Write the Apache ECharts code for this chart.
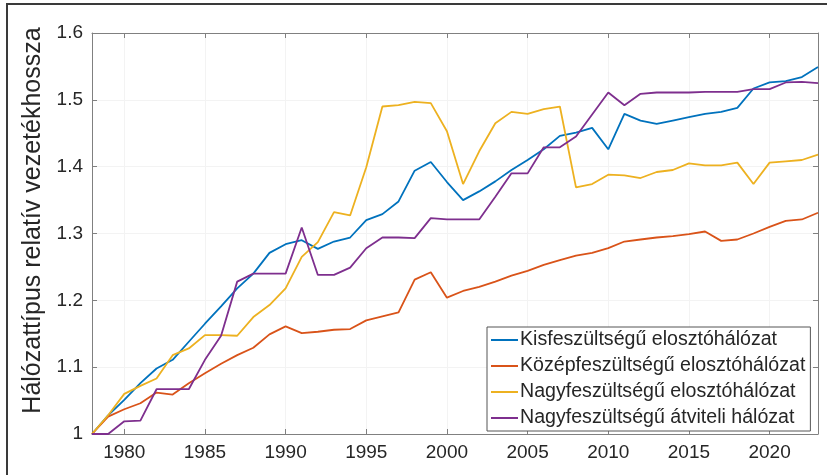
<!DOCTYPE html>
<html>
<head>
<meta charset="utf-8">
<script src="https://cdn.jsdelivr.net/npm/echarts@6/dist/echarts.min.js"></script>
<style>
    html, body { margin: 0; padding: 0; background: #fff; }
    #main { width: 827px; height: 475px; }
</style>
</head>
<body>
<div id="main"></div>
<script>
const years = ['1978', '1979', '1980', '1981', '1982', '1983', '1984', '1985', '1986', '1987',
    '1988', '1989', '1990', '1991', '1992', '1993', '1994', '1995', '1996', '1997',
    '1998', '1999', '2000', '2001', '2002', '2003', '2004', '2005', '2006', '2007',
    '2008', '2009', '2010', '2011', '2012', '2013', '2014', '2015', '2016', '2017',
    '2018', '2019', '2020', '2021', '2022', '2023'];

const seriesNames = [
    'Kisfeszültségű elosztóhálózat',
    'Középfeszültségű elosztóhálózat',
    'Nagyfeszültségű elosztóhálózat',
    'Nagyfeszültségű átviteli hálózat'
];

const kisfesz = [1.000, 1.028, 1.051, 1.076, 1.098, 1.111, 1.138, 1.165, 1.191, 1.218,
    1.240, 1.271, 1.284, 1.290, 1.277, 1.288, 1.294, 1.320, 1.329, 1.348,
    1.394, 1.407, 1.377, 1.350, 1.363, 1.378, 1.395, 1.410, 1.426, 1.446,
    1.451, 1.458, 1.426, 1.479, 1.469, 1.464, 1.469, 1.474, 1.479, 1.482,
    1.488, 1.517, 1.526, 1.528, 1.534, 1.549];

const kozepfesz = [1.000, 1.026, 1.037, 1.046, 1.062, 1.059, 1.076, 1.091, 1.105, 1.118,
    1.129, 1.149, 1.161, 1.151, 1.153, 1.156, 1.157, 1.170, 1.176, 1.182,
    1.231, 1.242, 1.204, 1.214, 1.220, 1.228, 1.237, 1.244, 1.253, 1.260,
    1.267, 1.271, 1.278, 1.288, 1.291, 1.294, 1.296, 1.299, 1.303, 1.289,
    1.291, 1.300, 1.310, 1.319, 1.321, 1.331];

const nagyElosztó = [1.000, 1.028, 1.060, 1.072, 1.083, 1.118, 1.128, 1.148, 1.148, 1.147,
    1.175, 1.193, 1.218, 1.265, 1.287, 1.332, 1.327, 1.399, 1.490, 1.492,
    1.497, 1.495, 1.453, 1.374, 1.423, 1.465, 1.482, 1.479, 1.486, 1.490,
    1.369, 1.374, 1.388, 1.387, 1.383, 1.392, 1.395, 1.405, 1.402, 1.402,
    1.406, 1.374, 1.406, 1.408, 1.410, 1.418];

const nagyAtviteli = [1.000, 1.000, 1.019, 1.020, 1.067, 1.067, 1.067, 1.111, 1.147, 1.228,
    1.240, 1.240, 1.240, 1.309, 1.238, 1.238, 1.249, 1.278, 1.294, 1.294,
    1.293, 1.323, 1.321, 1.321, 1.321, 1.355, 1.390, 1.390, 1.429, 1.429,
    1.445, 1.478, 1.511, 1.492, 1.509, 1.511, 1.511, 1.511, 1.512, 1.512,
    1.512, 1.516, 1.516, 1.526, 1.527, 1.525];

const colors = ['#0072BD', '#D95319', '#EDB120', '#7E2F8E'];

const font = 'Liberation Sans, Arial, sans-serif';
const axisGray = '#808080';
const textColor = '#262626';

// csak az 5-tel osztható évekhez kell jel és felirat
const everyFifth = (index, value) => Number(value) % 5 === 0;

const chart = echarts.init(document.getElementById('main'));

const makeLine = (name, data, color) => ({
    name: name,
    type: 'line',
    data: data,
    symbol: 'none',
    color: color,
    lineStyle: { width: 1.8, color: color },
    xAxisIndex: 0,
    yAxisIndex: 0,
    animation: false
});

const option = {
    animation: false,
    grid: { left: 92, right: 9, top: 33, bottom: 41 },
    graphic: [
        {
            type: 'polyline',
            shape: { points: [[7, 475], [7, 4], [827, 4]] },
            style: { stroke: '#3a3a3a', lineWidth: 2, fill: null }
        }
    ],
    legend: {
        orient: 'vertical',
        left: 487,
        top: 327,
        padding: [3, 5, 3, 4],
        itemGap: 6,
        icon: 'rect',
        itemWidth: 27,
        itemHeight: 2,
        borderColor: '#555',
        borderWidth: 1,
        backgroundColor: '#fff',
        textStyle: { fontFamily: font, fontSize: 19.6, color: textColor, padding: [0, 0, 0, -3] },
        data: seriesNames
    },
    xAxis: [
        {
            type: 'category',
            data: years,
            boundaryGap: false,
            axisLine: { lineStyle: { color: axisGray } },
            axisTick: { inside: true, length: 5, interval: everyFifth, lineStyle: { color: axisGray } },
            axisLabel: { interval: everyFifth, margin: 9, fontFamily: font, fontSize: 19, color: textColor },
            splitLine: { show: true, interval: everyFifth, lineStyle: { color: '#f3f3f3' } }
        },
        {
            type: 'category',
            data: years,
            position: 'top',
            boundaryGap: false,
            axisLine: { lineStyle: { color: axisGray } },
            axisTick: { inside: true, length: 5, interval: everyFifth, lineStyle: { color: axisGray } },
            axisLabel: { show: false }
        }
    ],
    yAxis: [
        {
            type: 'value',
            min: 1,
            max: 1.6,
            interval: 0.1,
            name: 'Hálózattípus relatív vezetékhossza',
            nameLocation: 'middle',
            nameGap: 43,
            nameTextStyle: { fontFamily: font, fontSize: 25, color: textColor, padding: [0, 0, 0, 26] },
            axisLine: { show: true, lineStyle: { color: axisGray } },
            axisTick: { show: true, inside: true, length: 5, lineStyle: { color: axisGray } },
            axisLabel: {
                margin: 9,
                fontFamily: font,
                fontSize: 19,
                color: textColor,
                formatter: v => String(Math.round(v * 10) / 10)
            },
            splitLine: { show: true, lineStyle: { color: '#f3f3f3' } }
        },
        {
            type: 'value',
            min: 1,
            max: 1.6,
            interval: 0.1,
            position: 'right',
            axisLine: { show: true, lineStyle: { color: axisGray } },
            axisTick: { show: true, inside: true, length: 5, lineStyle: { color: axisGray } },
            axisLabel: { show: false },
            splitLine: { show: false }
        }
    ],
    series: [
        makeLine(seriesNames[0], kisfesz, colors[0]),
        makeLine(seriesNames[1], kozepfesz, colors[1]),
        makeLine(seriesNames[2], nagyElosztó, colors[2]),
        makeLine(seriesNames[3], nagyAtviteli, colors[3])
    ]
};

chart.setOption(option);
</script>
</body>
</html>
